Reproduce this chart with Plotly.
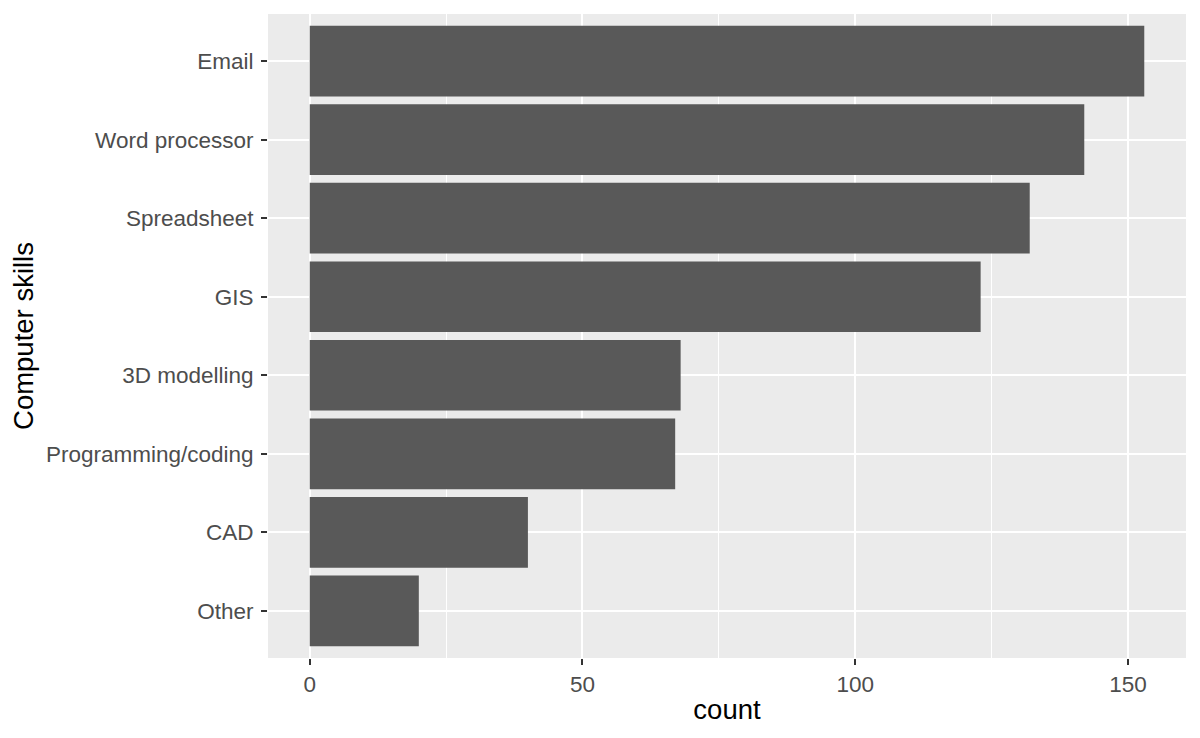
import plotly.graph_objects as go

skills = ["Email", "Word processor", "Spreadsheet", "GIS", "3D modelling",
          "Programming/coding", "CAD", "Other"]
counts = [153, 142, 132, 123, 68, 67, 40, 20]
x_ticks = [0, 50, 100, 150]

# plotly category axes go bottom->top, so reverse
fig = go.Figure(go.Bar(
    x=counts[::-1], y=skills[::-1], orientation="h",
    marker=dict(color="#595959", line=dict(width=0)),
    width=0.9,
))

font = "Liberation Sans, Arial, sans-serif"
# page body has an 8px margin, so offset the plot area accordingly
fig.update_layout(
    width=1200, height=738,
    margin=dict(l=260, r=22, t=6, b=88),
    paper_bgcolor="white", plot_bgcolor="#EBEBEB",
    font=dict(family=font, color="#4D4D4D", size=22.5),
    showlegend=False,
    bargap=0.1,
)
fig.update_xaxes(
    range=[-7.65, 160.65], tickvals=x_ticks,
    showgrid=True, gridcolor="white", gridwidth=2.2,
    minor=dict(dtick=25, tick0=0, showgrid=True, gridcolor="white", gridwidth=1.1),
    zeroline=False, showline=False,
    ticks="outside", ticklen=6, tickwidth=2, tickcolor="#333333",
    tickfont=dict(size=22.5, color="#4D4D4D"),
    ticklabelstandoff=0,
    title=dict(text="count", font=dict(size=27.5, color="black"), standoff=3),
    automargin=False,
)
fig.update_yaxes(
    range=[-0.6, 7.6],
    showgrid=True, gridcolor="white", gridwidth=2.2,
    zeroline=False, showline=False,
    ticks="outside", ticklen=6, tickwidth=2, tickcolor="#333333",
    tickfont=dict(size=22.5, color="#4D4D4D"),
    ticklabelstandoff=3,
    title=dict(text="Computer skills", font=dict(size=27.5, color="black"), standoff=8),
    automargin=False,
)
fig.write_html("out.html")
